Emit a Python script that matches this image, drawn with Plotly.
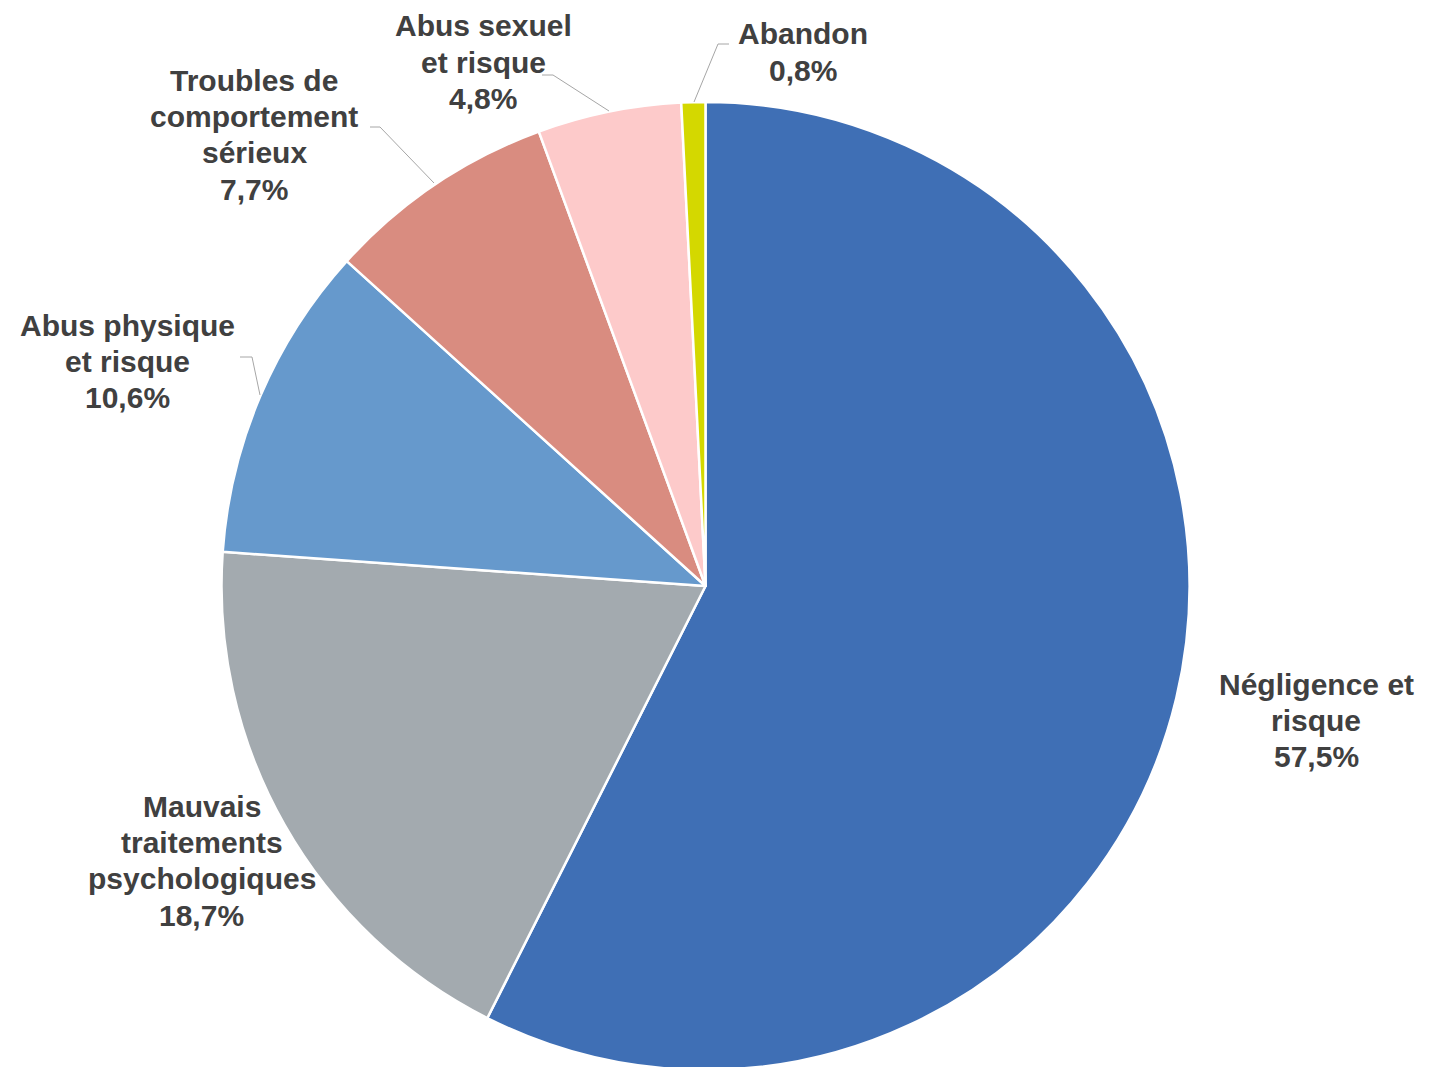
import plotly.graph_objects as go

categories = ["Négligence et risque", "Mauvais traitements psychologiques", "Abus physique et risque",
              "Troubles de comportement sérieux", "Abus sexuel et risque", "Abandon"]
values = [57.5, 18.7, 10.6, 7.7, 4.8, 0.8]
label_lines = [["Négligence et", "risque"],
               ["Mauvais", "traitements", "psychologiques"],
               ["Abus physique", "et risque"],
               ["Troubles de", "comportement", "sérieux"],
               ["Abus sexuel", "et risque"],
               ["Abandon"]]
colors = ["#3F6FB5", "#A3AAAF", "#6699CC", "#D98C80", "#FDCACA", "#D4D800"]

W, H = 1436, 1067
OFF = 8  # page body margin in the browser
# label: centre x and first-line centre y (page pixels)
label_pos = [(1316, 684), (202, 806), (127, 325), (254, 80), (483, 26), (803, 34)]
LINE_GAP = 36.4
leaders = [None, None,
           [(240, 357), (252, 357), (260, 395)],
           [(370, 127), (380, 127), (434, 183)],
           [(542, 75), (553, 75), (609, 111)],
           [(729, 44), (718, 44), (694, 102)]]

def px(x, y):
    return (x - OFF) / W, 1 - (y - OFF) / H

def fmt(v):
    return f"{v:.1f}".replace(".", ",") + "%"

# pie centre (page px) and radius
cx, cy, R = 705.5, 586, 484
x0, y_top = px(cx - R, cy - R)
x1, y_bot = px(cx + R, cy + R)

fig = go.Figure(go.Pie(
    labels=categories, values=values, sort=False, direction="clockwise", rotation=0,
    marker=dict(colors=colors, line=dict(color="white", width=2.5)),
    textinfo="none", hoverinfo="label+percent", showlegend=False,
    domain=dict(x=[max(0, x0), min(1, x1)], y=[max(0, y_bot), min(1, y_top)]),
))

annotations = []
for lines, v, (x, y) in zip(label_lines, values, label_pos):
    for i, t in enumerate(lines + [fmt(v)]):
        ax, ay = px(x, y + i * LINE_GAP)
        annotations.append(dict(
            x=ax, y=ay, xref="paper", yref="paper", showarrow=False,
            text=t, align="center",
            font=dict(family="Liberation Sans, Arial", size=30, color="#404040", weight="bold"),
            xanchor="center", yanchor="middle"))

shapes = []
for seg in leaders:
    if seg is None:
        continue
    path = "M " + " L ".join(f"{px(x, y)[0]},{px(x, y)[1]}" for x, y in seg)
    shapes.append(dict(type="path", path=path, xref="paper", yref="paper",
                       line=dict(color="#A6A6A6", width=1)))

fig.update_layout(width=W, height=H, margin=dict(l=0, r=0, t=0, b=0),
                  paper_bgcolor="white", plot_bgcolor="white",
                  annotations=annotations, shapes=shapes)
fig.write_html("out.html")
